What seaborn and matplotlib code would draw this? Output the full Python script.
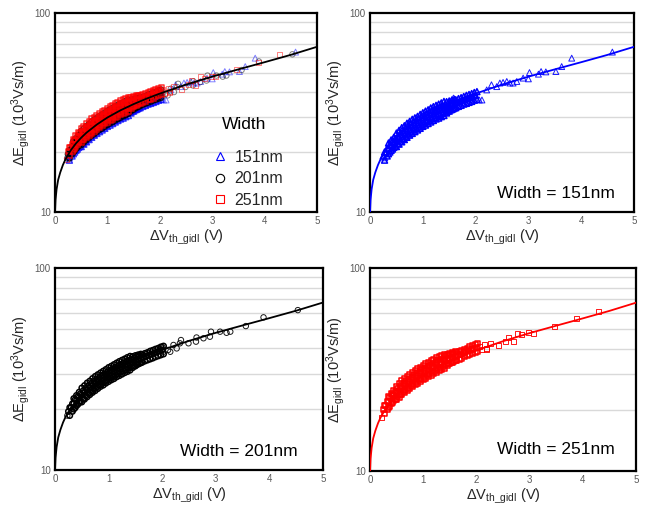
import numpy as np
import pandas as pd
import matplotlib
matplotlib.use("Agg")
import matplotlib.pyplot as plt
import seaborn as sns
from matplotlib.lines import Line2D

# ---------------- data ----------------
widths = ["151nm", "201nm", "251nm"]

# fitted curve
fit_x = [0, 0.01, 0.03, 0.06, 0.1, 0.15, 0.2, 0.3, 0.4, 0.5, 0.6, 0.8, 1.0, 1.25,
         1.5, 1.75, 2.0, 2.5, 3.0, 3.5, 4.0, 4.5, 5.0]
fit_y = [10, 11.5, 13, 14.5, 15.8, 17.2, 18.4, 20.4, 22.1, 23.6, 25.0, 27.5, 29.8, 32.4,
         34.8, 37.1, 39.3, 43.6, 47.8, 52.0, 56.5, 61.5, 67.5]

# dense part of the measured cloud
dense_x = [0.25, 0.30, 0.35, 0.40, 0.45, 0.50, 0.55, 0.60, 0.65, 0.70, 0.75, 0.80,
           0.85, 0.90, 0.95, 1.00, 1.05, 1.10, 1.15, 1.20, 1.25, 1.30, 1.35, 1.40,
           1.45, 1.50, 1.55, 1.60, 1.65, 1.70, 1.75, 1.80, 1.85, 1.90, 1.95, 2.00]
dense_x_off = [0.275, 0.325, 0.375, 0.425, 0.475, 0.525, 0.575, 0.625, 0.675, 0.725,
               0.775, 0.825, 0.875, 0.925, 0.975, 1.025, 1.075, 1.125, 1.175, 1.225,
               1.275, 1.325, 1.375, 1.425, 1.475, 1.525, 1.575, 1.625, 1.675, 1.725,
               1.775, 1.825, 1.875, 1.925, 1.975, 2.025]
outer_x = [0.35, 0.40, 0.45, 0.50, 0.55, 0.60, 0.65, 0.70, 0.75, 0.80, 0.85, 0.90,
           0.95, 1.00, 1.05, 1.10, 1.15, 1.20, 1.25, 1.30, 1.35, 1.40, 1.45, 1.50,
           1.55, 1.60]

w151_mid = [19.1, 20.0, 20.9, 21.7, 22.4, 23.1, 23.8, 24.5, 25.1, 25.8, 26.4, 27.0,
            27.5, 28.0, 28.6, 29.2, 29.7, 30.2, 30.8, 31.3, 31.8, 32.2, 32.7, 33.2,
            33.6, 34.1, 34.6, 35.0, 35.5, 35.9, 36.4, 36.8, 37.2, 37.6, 38.1, 38.5]
w151_low = [18.2, 19.1, 20.0, 20.7, 21.4, 22.1, 22.7, 23.4, 24.0, 24.6, 25.2, 25.8,
            26.3, 26.7, 27.3, 27.9, 28.4, 28.8, 29.4, 29.9, 30.4, 30.8, 31.2, 31.7,
            32.1, 32.6, 33.0, 33.4, 33.9, 34.3, 34.8, 35.1, 35.5, 35.9, 36.4, 36.8]
w151_high = [20.0, 20.9, 21.8, 22.7, 23.4, 24.1, 24.9, 25.6, 26.2, 27.0, 27.6, 28.2,
             28.7, 29.3, 29.9, 30.5, 31.0, 31.6, 32.2, 32.7, 33.2, 33.6, 34.2, 34.7,
             35.1, 35.6, 36.2, 36.6, 37.1, 37.5, 38.0, 38.5, 38.9, 39.3, 39.8, 40.2]
w151_lo2 = [19.6, 20.4, 21.1, 21.3, 21.9, 22.5, 23.1, 23.7, 24.3, 24.8, 25.3, 25.8,
            26.3, 26.9, 27.3, 27.8, 28.3, 28.8, 29.3, 29.6, 30.1, 30.5, 31.4, 32.1,
            32.7, 33.3]
w151_hi2 = [22.2, 23.0, 23.7, 24.9, 25.7, 26.5, 27.1, 27.9, 28.5, 29.2, 29.7, 30.2,
            30.9, 31.5, 32.1, 32.6, 33.3, 33.8, 34.3, 34.8, 35.3, 35.9, 35.8, 36.1,
            36.5, 36.8]

w201_mid = [19.5, 20.4, 21.3, 22.1, 22.9, 23.6, 24.3, 25.0, 25.6, 26.3, 26.9, 27.5,
            28.1, 28.6, 29.2, 29.8, 30.3, 30.8, 31.4, 31.9, 32.4, 32.9, 33.4, 33.9,
            34.3, 34.8, 35.3, 35.7, 36.2, 36.6, 37.1, 37.5, 38.0, 38.4, 38.9, 39.3]
w201_low = [18.6, 19.5, 20.3, 21.1, 21.9, 22.5, 23.2, 23.9, 24.4, 25.1, 25.7, 26.3,
            26.8, 27.3, 27.9, 28.5, 28.9, 29.4, 30.0, 30.5, 30.9, 31.4, 31.9, 32.4,
            32.8, 33.2, 33.7, 34.1, 34.6, 35.0, 35.4, 35.8, 36.3, 36.7, 37.1, 37.5]
w201_high = [20.4, 21.3, 22.3, 23.1, 23.9, 24.7, 25.4, 26.1, 26.8, 27.5, 28.1, 28.7,
             29.4, 29.9, 30.5, 31.1, 31.7, 32.2, 32.8, 33.3, 33.9, 34.4, 34.9, 35.4,
             35.8, 36.4, 36.9, 37.3, 37.8, 38.2, 38.8, 39.2, 39.7, 40.1, 40.7, 41.1]
w201_lo2 = [20.0, 20.8, 21.5, 21.7, 22.4, 23.0, 23.6, 24.2, 24.7, 25.3, 25.9, 26.3,
            26.9, 27.4, 27.9, 28.3, 28.9, 29.3, 29.8, 30.3, 30.7, 31.2, 32.1, 32.7,
            33.4, 33.9]
w201_hi2 = [22.6, 23.4, 24.3, 25.5, 26.2, 27.0, 27.6, 28.4, 29.1, 29.7, 30.3, 30.9,
            31.5, 32.2, 32.7, 33.3, 33.9, 34.5, 35.0, 35.5, 36.1, 36.6, 36.5, 36.9,
            37.2, 37.5]

w251_mid = [20.1, 21.0, 21.9, 22.8, 23.6, 24.3, 25.0, 25.8, 26.4, 27.1, 27.7, 28.3,
            28.9, 29.5, 30.1, 30.7, 31.2, 31.7, 32.3, 32.9, 33.4, 33.9, 34.4, 34.9,
            35.3, 35.8, 36.4, 36.8, 37.3, 37.7, 38.2, 38.6, 39.1, 39.6, 40.1, 40.5]
w251_low = [19.2, 20.1, 20.9, 21.8, 22.5, 23.2, 23.9, 24.6, 25.2, 25.9, 26.5, 27.0,
            27.6, 28.2, 28.7, 29.3, 29.8, 30.3, 30.8, 31.4, 31.9, 32.4, 32.9, 33.3,
            33.7, 34.2, 34.8, 35.1, 35.6, 36.0, 36.5, 36.9, 37.3, 37.8, 38.3, 38.7]
w251_high = [21.0, 21.9, 22.9, 23.8, 24.7, 25.4, 26.1, 27.0, 27.6, 28.3, 28.9, 29.6,
             30.2, 30.8, 31.5, 32.1, 32.6, 33.1, 33.8, 34.4, 34.9, 35.4, 35.9, 36.5,
             36.9, 37.4, 38.0, 38.5, 39.0, 39.4, 39.9, 40.3, 40.9, 41.4, 41.9, 42.3]
w251_lo2 = [20.6, 21.4, 22.2, 22.4, 23.0, 23.7, 24.3, 24.9, 25.5, 26.0, 26.6, 27.1,
            27.7, 28.2, 28.7, 29.2, 29.7, 30.3, 30.7, 31.2, 31.6, 32.1, 33.0, 33.7,
            34.4, 35.0]
w251_hi2 = [23.2, 24.2, 25.0, 26.2, 27.0, 27.9, 28.5, 29.3, 29.9, 30.6, 31.2, 31.9,
            32.5, 33.2, 33.7, 34.2, 34.9, 35.5, 36.1, 36.6, 37.2, 37.7, 37.6, 37.9,
            38.4, 38.6]

# sparse points
w151_sx = [0.28, 1.58, 2.07, 2.12, 2.21, 2.30, 2.40, 2.46, 2.52, 2.59, 2.65, 2.71, 2.78,
           2.90, 3.00, 3.02, 3.19, 3.24, 3.33, 3.52, 3.63, 3.82, 4.59]
w151_sy = [18.7, 37.3, 36.5, 36.5, 41.0, 43.5, 42.6, 44.4, 44.7, 45.2, 44.4, 44.4, 45.2,
           47.0, 46.6, 50.1, 49.2, 50.7, 50.5, 50.7, 53.7, 59.2, 63.5]
w201_sx = [0.23, 2.00, 2.02, 2.11, 2.15, 2.21, 2.27, 2.33, 2.35, 2.49, 2.63, 2.64, 2.77,
           2.89, 2.91, 3.08, 3.20, 3.27, 3.56, 3.89, 4.53]
w201_sy = [18.6, 40.8, 38.5, 39.3, 38.5, 41.6, 40.0, 42.4, 44.0, 42.4, 43.2, 45.3, 44.9,
           45.7, 48.4, 48.4, 47.8, 48.4, 51.6, 57.0, 61.9]
w251_sx = [0.22, 2.05, 2.09, 2.16, 2.19, 2.19, 2.26, 2.41, 2.54, 2.60, 2.69, 2.78, 2.85,
           2.98, 3.07, 3.46, 3.88, 4.29]
w251_sy = [18.3, 41.0, 39.5, 41.8, 39.8, 40.2, 42.6, 41.4, 43.7, 45.6, 43.4, 47.7, 46.8,
           48.0, 47.7, 51.8, 56.5, 61.4]

colors = {"151nm": "#0000FF", "201nm": "#000000", "251nm": "#FF0000"}
markers = {"151nm": "^", "201nm": "o", "251nm": "s"}
msize = {"151nm": 18, "201nm": 15, "251nm": 13}

series = {
    "151nm": (w151_low, w151_mid, w151_high, w151_lo2, w151_hi2, w151_sx, w151_sy),
    "201nm": (w201_low, w201_mid, w201_high, w201_lo2, w201_hi2, w201_sx, w201_sy),
    "251nm": (w251_low, w251_mid, w251_high, w251_lo2, w251_hi2, w251_sx, w251_sy),
}


def dense_frame(w):
    lo, mid, hi, lo2, hi2, sx, sy = series[w]
    xs = list(dense_x) + list(dense_x_off) + list(dense_x_off) + list(outer_x) + list(outer_x)
    ys = list(mid) + list(lo) + list(hi) + list(lo2) + list(hi2)
    return pd.DataFrame({"x": xs, "y": ys, "Width": w})


def sparse_frame(w):
    sx, sy = series[w][5], series[w][6]
    return pd.DataFrame({"x": sx, "y": sy, "Width": w})


dense = {w: dense_frame(w) for w in widths}
sparse = {w: sparse_frame(w) for w in widths}
fit_df = pd.DataFrame({"x": fit_x, "y": fit_y})

# ---------------- style ----------------
sns.set_style("white")
plt.rcParams["font.family"] = ["Liberation Sans", "DejaVu Sans"]
plt.rcParams["mathtext.fontset"] = "custom"
plt.rcParams["mathtext.rm"] = "Liberation Sans"
plt.rcParams["mathtext.it"] = "Liberation Sans:italic"

fig = plt.figure(figsize=(6.51, 5.12), dpi=100)
positions = [
    [0.0845, 0.586, 0.4025, 0.389],
    [0.5684, 0.586, 0.4055, 0.389],
    [0.0845, 0.082, 0.4117, 0.3945],
    [0.5684, 0.080, 0.4086, 0.3965],
]
axes = [fig.add_axes(p) for p in positions]


def style_axis(ax):
    ax.set_yscale("log")
    ax.set_xlim(0, 5)
    ax.set_ylim(10, 100)
    ax.set_xticks([0, 1, 2, 3, 4, 5])
    ax.set_xticklabels(["0", "1", "2", "3", "4", "5"])
    ax.set_yticks([10, 100])
    ax.set_yticklabels(["10", "100"])
    ax.set_yticks([20, 30, 40, 50, 60, 70, 80, 90], minor=True)
    ax.yaxis.set_minor_formatter(matplotlib.ticker.NullFormatter())
    ax.grid(False)
    ax.grid(which="minor", axis="y", color="#d9d9d9", linewidth=1.0)
    ax.set_axisbelow(True)
    ax.tick_params(which="both", length=0, labelsize=7, colors="#595959", pad=3)
    for s in ax.spines.values():
        s.set_color("black")
        s.set_linewidth(1.6)
    ax.set_xlabel(r"ΔV$_{\rm th\_gidl}$ (V)", fontsize=10.5, color="#262626", labelpad=1)
    ax.set_ylabel(r"ΔE$_{\rm gidl}$ (10$^{3}$Vs/m)", fontsize=10.5, color="#262626", labelpad=2)


def draw(ax, w, alpha_dense=1.0, alpha_sparse=0.9):
    c = colors[w]
    sns.scatterplot(data=dense[w], x="x", y="y", ax=ax, marker=markers[w], s=msize[w],
                    facecolor="none", edgecolor=c, linewidth=1.1, alpha=alpha_dense,
                    legend=False, zorder=3)
    sns.scatterplot(data=sparse[w], x="x", y="y", ax=ax, marker=markers[w], s=msize[w],
                    facecolor="none", edgecolor=c, linewidth=0.7, alpha=alpha_sparse,
                    legend=False, zorder=3)


# panel 1: all widths
ax = axes[0]
for w in widths:
    draw(ax, w, alpha_dense=0.8, alpha_sparse=0.5)
sns.lineplot(data=fit_df, x="x", y="y", ax=ax, color="black", linewidth=1.3,
             estimator=None, sort=False, zorder=4)
style_axis(ax)
handles = [Line2D([], [], linestyle="none", marker=markers[w], markersize=6,
                  markerfacecolor="none", markeredgecolor=colors[w], markeredgewidth=0.8)
           for w in widths]
leg = ax.legend(handles, widths, loc="upper left",
                bbox_to_anchor=(0.575, 0.345), frameon=False, fontsize=11.5,
                handlelength=1.0, handletextpad=0.4,
                labelspacing=0.42, borderaxespad=0)
ax.text(0.637, 0.437, "Width", transform=ax.transAxes, fontsize=12.5,
        ha="left", va="center", color="black")

# single-width panels
for ax, w in zip(axes[1:], widths):
    draw(ax, w)
    sns.lineplot(data=fit_df, x="x", y="y", ax=ax, color=colors[w], linewidth=1.3,
                 estimator=None, sort=False, zorder=4)
    style_axis(ax)

text_pos = [(0.48, 0.095), (0.466, 0.09), (0.476, 0.107)]
for ax, w, (tx, ty) in zip(axes[1:], widths, text_pos):
    ax.text(tx, ty, f"Width = {w}", transform=ax.transAxes, fontsize=12.5,
            ha="left", va="center", color="black")

fig.savefig("out.png", dpi=100)
